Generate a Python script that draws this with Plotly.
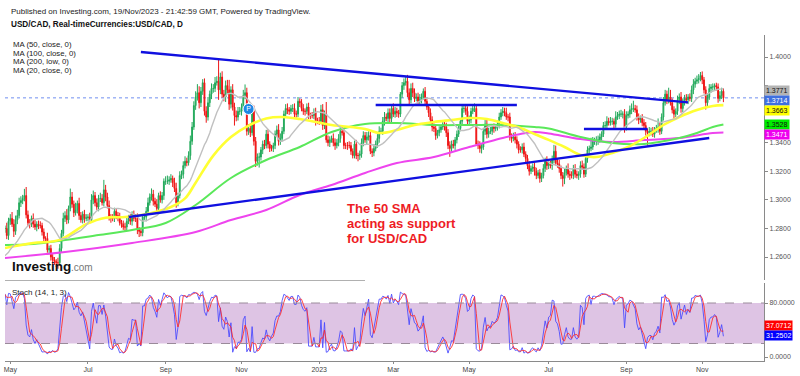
import pandas as pd
import numpy as np
import plotly.graph_objects as go

# ---------------- daily closes USD/CAD (Apr 1 2022 .. Nov 17 2023), one row per week ----------------
closes = [
    1.2500,
    1.2480, 1.2490, 1.2560, 1.2570, 1.2565,
    1.2640, 1.2615, 1.2580, 1.2600, 1.2615,
    1.2630, 1.2530, 1.2470, 1.2600, 1.2745,
    1.2770, 1.2800, 1.2800, 1.2750, 1.2850,
    1.2870, 1.2830, 1.2780, 1.2860, 1.2890,
    1.2980, 1.2995, 1.3010, 1.3030, 1.2895,
    1.2840, 1.2830, 1.2870, 1.2830, 1.2810,
    1.2830, 1.2820, 1.2820, 1.2775, 1.2730,
    1.2730, 1.2650, 1.2660, 1.2600, 1.2580,
    1.2570, 1.2560, 1.2560, 1.2660, 1.2765,
    1.2870, 1.2890, 1.2860, 1.2940, 1.3020,
    1.2970, 1.2910, 1.2930, 1.2975, 1.2890,
    1.2860, 1.2900, 1.2870, 1.2875, 1.2880,
    1.2860, 1.3000, 1.3030, 1.2980, 1.2950,
    1.3010, 1.3010, 1.2980, 1.3070, 1.3020,
    1.2960, 1.2880, 1.2870, 1.2870, 1.2920,
    1.2890, 1.2880, 1.2840, 1.2830, 1.2810,
    1.2810, 1.2850, 1.2870, 1.2850, 1.2900,
    1.2870, 1.2870, 1.2790, 1.2780, 1.2770,
    1.2880, 1.2880, 1.2920, 1.2980, 1.3020,
    1.3040, 1.2990, 1.2970, 1.2940, 1.3030,
    1.3000, 1.3030, 1.3130, 1.3130, 1.3130,
    1.3140, 1.3150, 1.3120, 1.3080, 1.2980,
    1.3030, 1.3170, 1.3180, 1.3240, 1.3270,
    1.3260, 1.3310, 1.3410, 1.3510, 1.3660,
    1.3720, 1.3750, 1.3680, 1.3760, 1.3820,
    1.3620, 1.3580, 1.3680, 1.3740, 1.3780,
    1.3780, 1.3820, 1.3830, 1.3770, 1.3860,
    1.3740, 1.3720, 1.3800, 1.3770, 1.3670,
    1.3770, 1.3650, 1.3590, 1.3580, 1.3620,
    1.3620, 1.3640, 1.3730, 1.3750, 1.3480,
    1.3500, 1.3470, 1.3620, 1.3410, 1.3270,
    1.3300, 1.3300, 1.3350, 1.3390, 1.3380,
    1.3460, 1.3390, 1.3360, 1.3360, 1.3380,
    1.3460, 1.3490, 1.3410, 1.3430, 1.3480,
    1.3600, 1.3640, 1.3630, 1.3620, 1.3640,
    1.3640, 1.3600, 1.3600, 1.3690, 1.3680,
    1.3640, 1.3620, 1.3620, 1.3650, 1.3590,
    1.3590, 1.3590, 1.3610, 1.3550, 1.3550,
    1.3550, 1.3630, 1.3520, 1.3600, 1.3420,
    1.3400, 1.3420, 1.3430, 1.3400, 1.3380,
    1.3400, 1.3430, 1.3480, 1.3470, 1.3380,
    1.3380, 1.3380, 1.3380, 1.3340, 1.3310,
    1.3390, 1.3310, 1.3310, 1.3320, 1.3400,
    1.3450, 1.3420, 1.3440, 1.3450, 1.3340,
    1.3330, 1.3360, 1.3390, 1.3430, 1.3480,
    1.3480, 1.3550, 1.3580, 1.3570, 1.3610,
    1.3570, 1.3640, 1.3600, 1.3620, 1.3610,
    1.3600, 1.3740, 1.3800, 1.3820, 1.3830,
    1.3750, 1.3700, 1.3780, 1.3750, 1.3710,
    1.3720, 1.3690, 1.3700, 1.3720, 1.3760,
    1.3690, 1.3650, 1.3610, 1.3560, 1.3510,
    1.3500, 1.3450, 1.3470, 1.3490, 1.3510,
    1.3530, 1.3510, 1.3470, 1.3380, 1.3360,
    1.3390, 1.3380, 1.3420, 1.3460, 1.3500,
    1.3550, 1.3640, 1.3640, 1.3620, 1.3550,
    1.3560, 1.3620, 1.3640, 1.3640, 1.3390,
    1.3380, 1.3360, 1.3370, 1.3480, 1.3530,
    1.3460, 1.3480, 1.3480, 1.3510, 1.3500,
    1.3510, 1.3530, 1.3580, 1.3610, 1.3620,
    1.3610, 1.3580, 1.3580, 1.3440, 1.3430,
    1.3440, 1.3420, 1.3390, 1.3350, 1.3350,
    1.3370, 1.3320, 1.3290, 1.3240, 1.3200,
    1.3220, 1.3230, 1.3200, 1.3170, 1.3190,
    1.3150, 1.3170, 1.3220, 1.3270, 1.3240,
    1.3250, 1.3240, 1.3280, 1.3340, 1.3260,
    1.3250, 1.3220, 1.3170, 1.3150, 1.3190,
    1.3220, 1.3180, 1.3170, 1.3170, 1.3220,
    1.3180, 1.3170, 1.3180, 1.3240, 1.3230,
    1.3180, 1.3290, 1.3350, 1.3360, 1.3370,
    1.3410, 1.3410, 1.3410, 1.3420, 1.3440,
    1.3460, 1.3520, 1.3520, 1.3550, 1.3540,
    1.3550, 1.3550, 1.3530, 1.3580, 1.3590,
    1.3600, 1.3600, 1.3600, 1.3510, 1.3590,
    1.3600, 1.3630, 1.3640, 1.3640, 1.3630,
    1.3580, 1.3560, 1.3570, 1.3540, 1.3520,
    1.3480, 1.3470, 1.3480, 1.3480, 1.3460,
    1.3490, 1.3500, 1.3510, 1.3480, 1.3580,
    1.3680, 1.3740, 1.3700, 1.3720, 1.3680,
    1.3630, 1.3600, 1.3620, 1.3700, 1.3720,
    1.3640, 1.3680, 1.3710, 1.3700, 1.3720,
    1.3710, 1.3770, 1.3810, 1.3830, 1.3840,
    1.3850, 1.3870, 1.3840, 1.3770, 1.3680,
    1.3720, 1.3780, 1.3790, 1.3790, 1.3800,
    1.3790, 1.3710, 1.3730, 1.3760, 1.3714,
]

# upper / lower shadow beyond the candle body, in pips
hi_wick = [
    20,
    25, 20, 30, 15, 25,
    20, 30, 25, 20, 15,
    25, 30, 20, 25, 20,
    30, 25, 20, 40, 25,
    30, 45, 35, 30, 40,
    35, 30, 25, 47, 60,
    30, 25, 20, 35, 30,
    20, 25, 30, 20, 25,
    15, 40, 20, 25, 20,
    20, 15, 35, 30, 25,
    40, 30, 45, 20, 59,
    35, 25, 50, 20, 40,
    25, 20, 30, 25, 20,
    30, 40, 35, 25, 30,
    25, 40, 30, 70, 35,
    30, 35, 20, 30, 25,
    20, 25, 30, 20, 25,
    30, 35, 25, 30, 20,
    25, 30, 35, 20, 25,
    20, 25, 30, 35, 25,
    40, 30, 25, 35, 20,
    30, 25, 20, 35, 40,
    25, 30, 20, 35, 40,
    20, 30, 25, 30, 35,
    25, 30, 40, 35, 30,
    40, 60, 45, 30, 25,
    30, 35, 40, 25, 35,
    30, 40, 35, 149, 30,
    40, 30, 35, 40, 70,
    25, 40, 30, 35, 30,
    30, 35, 40, 58, 35,
    30, 35, 25, 40, 30,
    25, 30, 20, 25, 30,
    30, 35, 20, 25, 20,
    25, 30, 40, 35, 30,
    25, 30, 35, 20, 25,
    30, 35, 25, 30, 20,
    25, 30, 20, 25, 30,
    20, 25, 30, 35, 25,
    30, 35, 40, 25, 85,
    30, 25, 20, 35, 30,
    25, 30, 40, 35, 25,
    20, 25, 30, 25, 20,
    25, 30, 20, 25, 30,
    30, 25, 35, 30, 25,
    20, 30, 25, 30, 35,
    25, 30, 35, 25, 30,
    30, 25, 35, 30, 25,
    20, 15, 25, 30, 32,
    45, 30, 35, 40, 30,
    25, 30, 40, 25, 20,
    30, 25, 20, 30, 25,
    25, 30, 20, 25, 15,
    20, 25, 30, 25, 30,
    25, 30, 20, 25, 30,
    20, 25, 30, 25, 35,
    30, 25, 20, 35, 30,
    25, 30, 20, 25, 30,
    35, 25, 30, 20, 25,
    20, 25, 30, 25, 30,
    25, 35, 20, 30, 25,
    30, 35, 25, 20, 25,
    25, 30, 20, 25, 30,
    20, 25, 30, 25, 20,
    25, 20, 30, 25, 35,
    20, 25, 30, 45, 40,
    25, 30, 20, 25, 30,
    20, 35, 25, 30, 25,
    30, 25, 20, 30, 35,
    25, 30, 25, 20, 65,
    30, 25, 35, 30, 25,
    20, 25, 30, 35, 25,
    30, 25, 20, 40, 25,
    25, 30, 20, 35, 30,
    20, 30, 35, 54, 25,
    30, 25, 20, 30, 25,
    25, 20, 30, 25, 30,
    20, 25, 60, 30, 25,
    40, 30, 25, 65, 50,
    30, 25, 20, 30, 25,
    35, 30, 25, 30, 20,
    25, 30, 35, 25, 30,
    30, 25, 29, 20, 25,
    25, 30, 20, 25, 15,
    20, 25, 30, 25, 20,
]

lo_wick = [
    25,
    20, 25, 15, 30, 20,
    25, 20, 30, 20, 25,
    20, 25, 30, 20, 25,
    25, 20, 30, 25, 30,
    25, 20, 40, 25, 30,
    20, 30, 25, 20, 25,
    25, 30, 20, 25, 20,
    30, 25, 20, 25, 30,
    25, 20, 30, 25, 35,
    25, 30, 42, 20, 25,
    20, 25, 30, 25, 20,
    25, 30, 20, 25, 30,
    20, 25, 30, 20, 25,
    25, 20, 30, 25, 20,
    30, 25, 20, 25, 30,
    20, 25, 30, 20, 25,
    25, 30, 20, 25, 20,
    30, 25, 20, 25, 30,
    20, 25, 30, 40, 25,
    25, 20, 30, 25, 20,
    25, 30, 20, 25, 30,
    20, 25, 30, 25, 20,
    25, 20, 30, 25, 35,
    25, 20, 25, 30, 20,
    25, 20, 30, 25, 20,
    30, 25, 40, 30, 25,
    30, 40, 25, 30, 35,
    30, 25, 20, 70, 30,
    25, 30, 35, 25, 40,
    30, 25, 70, 30, 25,
    25, 30, 20, 25, 30,
    25, 30, 20, 30, 40,
    30, 74, 25, 30, 25,
    20, 30, 25, 20, 25,
    25, 20, 30, 25, 20,
    20, 25, 30, 25, 20,
    25, 30, 25, 20, 30,
    20, 25, 30, 20, 25,
    25, 20, 25, 30, 20,
    25, 20, 30, 25, 20,
    25, 30, 20, 25, 30,
    20, 25, 30, 20, 25,
    25, 30, 20, 25, 20,
    20, 25, 40, 30, 25,
    25, 20, 30, 25, 20,
    30, 25, 20, 25, 30,
    20, 25, 30, 20, 25,
    25, 30, 20, 25, 30,
    25, 20, 25, 30, 20,
    30, 35, 25, 30, 25,
    20, 25, 30, 25, 20,
    25, 20, 30, 25, 30,
    25, 30, 20, 25, 20,
    20, 25, 30, 25, 59,
    25, 20, 30, 25, 20,
    20, 25, 30, 25, 20,
    30, 25, 20, 25, 10,
    25, 30, 35, 20, 25,
    30, 25, 20, 25, 30,
    20, 25, 30, 20, 25,
    25, 20, 30, 25, 30,
    20, 25, 30, 25, 20,
    25, 20, 30, 25, 30,
    20, 25, 30, 25, 20,
    30, 25, 20, 25, 30,
    25, 20, 30, 25, 20,
    25, 30, 25, 57, 40,
    20, 25, 30, 20, 25,
    25, 20, 30, 25, 20,
    25, 20, 30, 25, 20,
    20, 25, 30, 25, 20,
    25, 20, 30, 25, 20,
    20, 25, 30, 25, 20,
    25, 20, 30, 40, 25,
    20, 25, 30, 25, 20,
    25, 30, 20, 25, 30,
    30, 90, 25, 30, 20,
    25, 20, 30, 25, 20,
    25, 20, 30, 25, 20,
    25, 35, 20, 25, 30,
    30, 25, 20, 25, 30,
    20, 25, 30, 25, 20,
    25, 20, 30, 25, 48,
    25, 20, 30, 25, 20,
    25, 30, 20, 25, 30,
]

# ---------------- moving averages ----------------
ma50_dates = ["2022-04-27", "2022-05-19", "2022-06-09", "2022-06-30", "2022-07-15", "2022-08-01",
              "2022-08-19", "2022-09-06", "2022-09-16", "2022-09-26", "2022-10-10", "2022-10-24",
              "2022-11-07", "2022-11-21", "2022-12-02", "2022-12-16", "2023-01-11", "2023-02-07",
              "2023-02-17", "2023-03-03", "2023-03-17", "2023-04-03", "2023-04-17", "2023-05-01",
              "2023-05-15", "2023-05-26", "2023-06-09", "2023-06-21", "2023-07-03", "2023-07-14",
              "2023-07-27", "2023-08-09", "2023-08-22", "2023-09-04", "2023-09-15", "2023-10-02",
              "2023-10-13", "2023-10-27", "2023-11-09", "2023-11-17"]
ma50_vals = [1.2663, 1.2698, 1.2720, 1.2830, 1.2875, 1.2880,
             1.2905, 1.2950, 1.3010, 1.3120, 1.3310, 1.3440,
             1.3520, 1.3570, 1.3580, 1.3566, 1.3524, 1.3496,
             1.3468, 1.3489, 1.3524, 1.3545, 1.3559, 1.3573,
             1.3566, 1.3538, 1.3503, 1.3461, 1.3420, 1.3370,
             1.3314, 1.3300, 1.3328, 1.3370, 1.3433, 1.3524,
             1.3580, 1.3629, 1.3657, 1.3663]

ma100_dates = ["2022-04-27", "2022-05-19", "2022-06-14", "2022-07-11", "2022-08-05", "2022-09-01",
               "2022-09-26", "2022-10-24", "2022-11-21", "2022-12-16", "2023-01-11", "2023-02-07",
               "2023-03-03", "2023-04-03", "2023-05-01", "2023-05-26", "2023-06-21", "2023-07-03",
               "2023-07-27", "2023-08-22", "2023-09-15", "2023-10-13", "2023-10-27", "2023-11-09",
               "2023-11-17"]
ma100_vals = [1.2684, 1.2691, 1.2719, 1.2754, 1.2789, 1.2838,
              1.2964, 1.3153, 1.3279, 1.3370, 1.3475, 1.3531,
              1.3538, 1.3524, 1.3524, 1.3524, 1.3510, 1.3500,
              1.3440, 1.3398, 1.3391, 1.3433, 1.3468, 1.3510,
              1.3528]

ma200_dates = ["2022-04-27", "2022-06-14", "2022-08-05", "2022-09-26", "2022-10-24", "2022-11-21",
               "2022-12-16", "2023-01-11", "2023-02-07", "2023-03-03", "2023-04-03", "2023-05-01",
               "2023-05-26", "2023-06-09", "2023-06-21", "2023-07-03", "2023-07-27", "2023-08-22",
               "2023-09-15", "2023-10-13", "2023-11-09", "2023-11-17"]
ma200_vals = [1.2593, 1.2635, 1.2698, 1.2775, 1.2859, 1.2929,
              1.3034, 1.3104, 1.3188, 1.3258, 1.3300, 1.3370,
              1.3433, 1.3461, 1.3475, 1.3465, 1.3426, 1.3405,
              1.3419, 1.3433, 1.3468, 1.3471]

# hand-drawn lines (start / end)
desc_line_dates = ["2022-08-12", "2023-10-20"]
desc_line_vals = [1.4035, 1.3682]
asc_line_dates = ["2022-08-03", "2023-11-07"]
asc_line_vals = [1.2880, 1.3433]
res1_dates = ["2023-02-15", "2023-06-07"]
res1_vals = [1.3664, 1.3664]
res2_dates = ["2023-07-31", "2023-09-19"]
res2_vals = [1.3496, 1.3496]

marker_date = ["2022-11-07"]
marker_val = [1.3636]

# last values shown on the right scale
last_ma20, last_close, last_ma50, last_ma100, last_ma200 = 1.3771, 1.3714, 1.3663, 1.3528, 1.3471
last_d, last_k = 37.0712, 31.2502

price_ticks = [1.26, 1.28, 1.30, 1.32, 1.34, 1.36, 1.38, 1.40]
hidden_price_labels = [1.36, 1.38]   # covered by the value tags on the right scale
stoch_ticks = [0, 80]
month_ticks = ["2022-05-02", "2022-07-01", "2022-09-01", "2022-11-01", "2023-01-02",
               "2023-03-01", "2023-05-01", "2023-07-03", "2023-09-01", "2023-11-01"]
month_labels = ["May", "Jul", "Sep", "Nov", "2023", "Mar", "May", "Jul", "Sep", "Nov"]

# ---------------- derived series ----------------
dates = pd.bdate_range(end="2023-11-17", periods=len(closes))
c = pd.Series(closes, index=dates, dtype=float)
o = c.shift(1)
o.iloc[0] = c.iloc[0]
h = np.maximum(o, c) + pd.Series(hi_wick, index=dates) / 10000.0
l = np.minimum(o, c) - pd.Series(lo_wick, index=dates) / 10000.0
ma20 = c.rolling(20, min_periods=1).mean()
hh = h.rolling(14, min_periods=1).max()
ll = l.rolling(14, min_periods=1).min()
k = 100 * (c - ll) / (hh - ll)
d = k.rolling(3, min_periods=1).mean()

W, H = 800, 376
def px(x):
    return x / W
def py(y):
    return 1 - y / H

FONT = "Arial, Liberation Sans, sans-serif"
X0, X1 = 5, 764

fig = go.Figure()
fig.add_trace(go.Candlestick(
    x=dates, open=o, high=h, low=l, close=c,
    increasing=dict(line=dict(color="#22a85a", width=1), fillcolor="#2ecc71"),
    decreasing=dict(line=dict(color="#ee1515", width=1), fillcolor="#ff1010"),
    whiskerwidth=0, showlegend=False, hoverinfo="skip"))

fig.add_trace(go.Scatter(x=ma200_dates, y=ma200_vals, mode="lines", line=dict(color="#ee44ee", width=2, shape="spline"), showlegend=False, hoverinfo="skip"))
fig.add_trace(go.Scatter(x=ma100_dates, y=ma100_vals, mode="lines", line=dict(color="#5ae85a", width=2, shape="spline"), showlegend=False, hoverinfo="skip"))
fig.add_trace(go.Scatter(x=ma50_dates, y=ma50_vals, mode="lines", line=dict(color="#ffff33", width=2.6, shape="spline"), showlegend=False, hoverinfo="skip"))
fig.add_trace(go.Scatter(x=dates, y=ma20, mode="lines", line=dict(color="#c0c0c0", width=1.4), showlegend=False, hoverinfo="skip"))

for xs, ys in [(desc_line_dates, desc_line_vals), (asc_line_dates, asc_line_vals),
               (res1_dates, res1_vals), (res2_dates, res2_vals)]:
    fig.add_trace(go.Scatter(x=xs, y=ys, mode="lines", line=dict(color="#1010e0", width=2.4),
                             showlegend=False, hoverinfo="skip"))

fig.add_trace(go.Scatter(x=marker_date, y=marker_val, mode="markers+text", text=["P"],
                         textposition="middle center", textfont=dict(color="white", size=7, family=FONT),
                         marker=dict(size=11, color="#1e88e5", line=dict(color="white", width=1)),
                         showlegend=False, hoverinfo="skip"))

fig.add_trace(go.Scatter(x=dates, y=k, mode="lines", line=dict(color="rgba(70,70,255,0.85)", width=1),
                         xaxis="x2", yaxis="y2", showlegend=False, hoverinfo="skip"))
fig.add_trace(go.Scatter(x=dates, y=d, mode="lines", line=dict(color="rgba(255,40,40,0.85)", width=1),
                         xaxis="x2", yaxis="y2", showlegend=False, hoverinfo="skip"))

pmin = 1.40 - (280 - 57) / 1428.6
pmax = 1.40 + (57 - 35) / 1428.6
smin = -(361 - 357) / 0.675
smax = 80 + (303 - 283) / 0.675

fig.update_layout(
    width=W, height=H, margin=dict(l=0, r=0, t=0, b=0, autoexpand=False),
    paper_bgcolor="white", plot_bgcolor="white",
    font=dict(family=FONT, size=7, color="#444"),
    showlegend=False, hovermode=False,
    xaxis=dict(domain=[px(X0), px(X1)], anchor="y", range=["2022-04-27", "2023-12-20"],
               rangebreaks=[dict(bounds=["sat", "mon"])], showticklabels=False, showgrid=False,
               zeroline=False, showline=False, rangeslider=dict(visible=False), fixedrange=True,
               automargin=False),
    xaxis2=dict(domain=[px(X0), px(X1)], anchor="y2", matches="x",
                rangebreaks=[dict(bounds=["sat", "mon"])], showgrid=False, zeroline=False,
                showline=True, linecolor="#8a8a8a", linewidth=1,
                tickmode="array", tickvals=month_ticks, ticktext=month_labels,
                ticks="outside", ticklen=2, tickcolor="#8a8a8a", automargin=False,
                tickfont=dict(size=7, color="#444")),
    yaxis=dict(domain=[py(280), py(35)], anchor="x", side="right", range=[pmin, pmax],
               showgrid=False, zeroline=False, showline=True, linecolor="#8a8a8a", linewidth=1,
               tickmode="array", tickvals=price_ticks,
               ticktext=["" if v in hidden_price_labels else f"{v:.4f}" for v in price_ticks],
               ticks="outside", ticklen=3, tickcolor="#8a8a8a", automargin=False,
               tickfont=dict(size=7, color="#555")),
    yaxis2=dict(domain=[py(361), py(283)], anchor="x2", side="right", range=[smin, smax],
                showgrid=False, zeroline=False, showline=True, linecolor="#8a8a8a", linewidth=1,
                tickmode="array", tickvals=stoch_ticks, ticktext=[f"{v:.4f}" for v in stoch_ticks],
                ticks="outside", ticklen=3, tickcolor="#8a8a8a", automargin=False,
                tickfont=dict(size=7, color="#555")),
)

shapes = [
    dict(type="rect", xref="paper", yref="y2", x0=px(X0), x1=px(X1), y0=20, y1=80,
         fillcolor="rgb(222,196,228)", line=dict(width=0), layer="below"),
    dict(type="line", xref="paper", yref="y2", x0=px(X0), x1=px(X1), y0=80, y1=80,
         line=dict(color="#9a8a9a", width=1, dash="dash")),
    dict(type="line", xref="paper", yref="y2", x0=px(X0), x1=px(X1), y0=20, y1=20,
         line=dict(color="#9a8a9a", width=1, dash="dash")),
    dict(type="line", xref="paper", yref="y", x0=px(X0), x1=px(X1), y0=last_close, y1=last_close,
         line=dict(color="#6f8ff0", width=1, dash="dot"), layer="below"),
    dict(type="line", xref="paper", yref="paper", x0=px(5), x1=px(365), y0=py(280.5), y1=py(280.5),
         line=dict(color="#b0b0b0", width=1)),
]
fig.update_layout(shapes=shapes)

ann = []
def text(x, y, s, size=8, color="#222", bold=False):
    ann.append(dict(xref="paper", yref="paper", x=px(x), y=py(y), xanchor="left", yanchor="middle",
                    text=(f"<b>{s}</b>" if bold else s), showarrow=False,
                    font=dict(size=size, color=color, family=FONT)))

text(9, 11, "Published on Investing.com, 19/Nov/2023 - 21:42:59 GMT, Powered by TradingView.", 8)
text(9, 25, "USD/CAD, Real-timeCurrencies:USD/CAD, D", 8.2, "#111", True)
for i, s in enumerate(["MA (50, close, 0)", "MA (100, close, 0)", "MA (200, low, 0)", "MA (20, close, 0)"]):
    text(11, 45 + i * 8.5, s, 7.8, "#222")
text(345, 208, "The 50 SMA", 13, "#ee1c25", True)
text(345, 223, "acting as support", 13, "#ee1c25", True)
text(345, 238, "for USD/CAD", 13, "#ee1c25", True)
text(10, 266, "Investing", 13.5, "#111", True)
text(69, 267.5, ".com", 10, "#777")
text(10, 292, "Stoch (14, 1, 3)", 8, "#222")

def tag(y, val, bg, fg):
    ann.append(dict(xref="paper", yref="paper", x=px(764), y=py(y), xanchor="left", yanchor="middle",
                    text=f"{val:.4f}", showarrow=False, bgcolor=bg, borderpad=1,
                    font=dict(size=7, color=fg, family=FONT)))

tag(90.5, last_ma20, "#b4b4b4", "#111")
tag(100, last_close, "#3f6fe0", "white")
tag(110, last_ma50, "#ffff00", "#111")
tag(124.5, last_ma100, "#00ee00", "#111")
tag(134.5, last_ma200, "#ee00ee", "white")
tag(325.5, last_d, "#ff0000", "white")
tag(335.5, last_k, "#0000ff", "white")

fig.update_layout(annotations=ann)
fig.write_html("out.html", config={"displayModeBar": False, "staticPlot": True},
               post_script="document.body.style.margin='0';document.body.style.overflow='hidden';")
